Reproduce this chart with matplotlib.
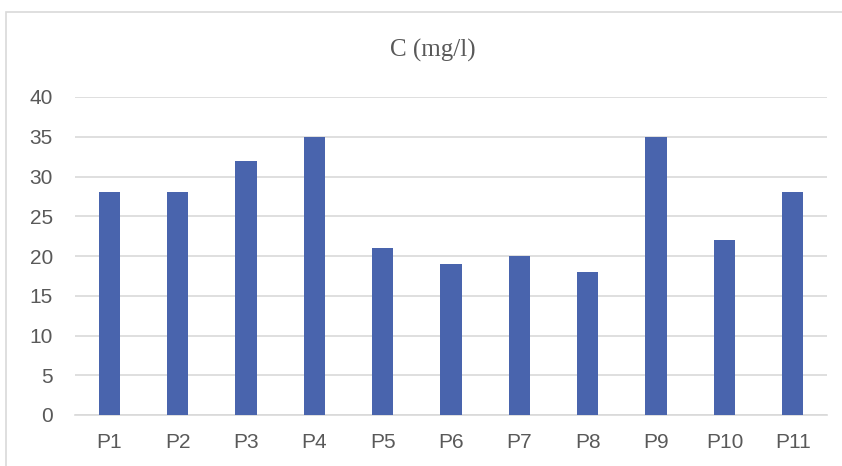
import matplotlib.pyplot as plt
from matplotlib.patches import Rectangle

# data
stations = ['P1', 'P2', 'P3', 'P4', 'P5', 'P6', 'P7', 'P8', 'P9', 'P10', 'P11']
conc = [28, 28, 32, 35, 21, 19, 20, 18, 35, 22, 28]
yticks = [0, 5, 10, 15, 20, 25, 30, 35, 40]

fig = plt.figure(figsize=(8.42, 4.66), dpi=100)
ax = fig.add_axes([75 / 842, 1 - 415 / 466, (827 - 75) / 842, (415 - 97) / 466])

ax.bar(range(len(stations)), conc, width=0.31, color='#4964ad', zorder=3)

ax.set_xlim(-0.5, len(stations) - 0.5)
ax.set_ylim(0, 40)
ax.set_yticks(yticks)
ax.set_xticks(range(len(stations)))
ax.set_xticklabels(stations)

for s in ['top', 'right', 'left']:
    ax.spines[s].set_visible(False)
ax.spines['bottom'].set_color('#d9d9d9')
ax.spines['bottom'].set_linewidth(1.2)
ax.grid(axis='y', color='#d9d9d9', linewidth=1.2, zorder=0)

ax.tick_params(axis='both', length=0, labelsize=15, labelcolor='#595959')
ax.tick_params(axis='x', pad=13)
ax.tick_params(axis='y', pad=16)
for lbl in ax.get_xticklabels() + ax.get_yticklabels():
    lbl.set_fontfamily('Liberation Sans')

fig.text(433 / 842, 1 - 50 / 466, 'C (mg/l)', ha='center', va='center',
         fontsize=18, family='Liberation Serif', color='#595959')

# chart frame, only top and left edges visible in the reference
fig.patches.append(Rectangle((6 / 842, -0.2), 1.2, 1.2 - 12 / 466,
                             transform=fig.transFigure, fill=False,
                             edgecolor='#d9d9d9', linewidth=1.2))

fig.savefig('out.png', dpi=100)
